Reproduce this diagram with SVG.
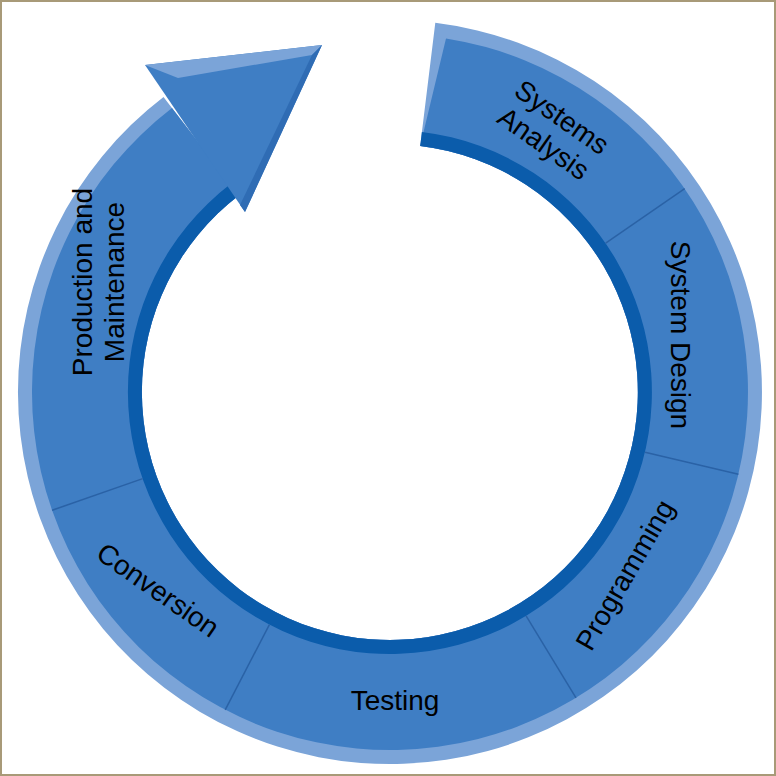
<svg xmlns="http://www.w3.org/2000/svg" width="776" height="776" viewBox="0 0 776 776">
<style>
.lbl{font-family:"Liberation Sans",Arial,sans-serif;font-size:28px;fill:#000;text-anchor:middle;dominant-baseline:central}
.div{stroke:#2a62a6;stroke-width:1.5}
</style>
<rect x="1" y="1" width="774" height="774" fill="#fff" stroke="#a89a78" stroke-width="2"/>
<g id="ring">
<path d="M435.3,22.8 A372,372 0 1 1 163.5,96.9 L239,195.2 A248,248 0 1 0 420.2,145.9 Z" fill="#7ba4d8"/>
<path d="M446,38.4 A358,358 0 1 1 172,108 L239,195.2 A248,248 0 1 0 420.2,145.9 Z" fill="#3f7ec4"/>
<path d="M421.9,132 A262,262 0 1 1 230.5,184.1 L239,195.2 A248,248 0 1 0 420.2,145.9 Z" fill="#0b5cab"/>
</g>
<g id="arrowhead">
<polygon points="145,65 322,45 245,212" fill="#3f7ec4"/>
<polygon points="145,65 322,45 312,55 178,78" fill="#7ba4d8"/>
<polygon points="322,45 312,55 240,205 245,212" fill="#2f6cb4"/>
</g>
<g id="connectors">
<line class="div" x1="605.7" y1="243.2" x2="684.7" y2="188.7"/>
<line class="div" x1="645" y1="452.3" x2="738.4" y2="474.3"/>
<line class="div" x1="526.1" y1="615.9" x2="576" y2="697.9"/>
<line class="div" x1="269.4" y1="624.6" x2="225.2" y2="709.8"/>
<line class="div" x1="142.7" y1="478.6" x2="52.1" y2="510.3"/>
</g>
<g id="systems-analysis"><text class="lbl" transform="translate(553,130) rotate(35)"><tspan x="0" y="-16">Systems</tspan><tspan x="0" y="16">Analysis</tspan></text></g>
<g id="system-design"><text class="lbl" transform="translate(680,335) rotate(90)">System Design</text></g>
<g id="programming"><text class="lbl" transform="translate(625,575) rotate(-60)">Programming</text></g>
<g id="testing"><text class="lbl" x="395" y="700">Testing</text></g>
<g id="conversion"><text class="lbl" transform="translate(158,590) rotate(35)">Conversion</text></g>
<g id="production"><text class="lbl" transform="translate(98,282) rotate(-90)"><tspan x="0" y="-16">Production and</tspan><tspan x="0" y="16">Maintenance</tspan></text></g>
</svg>
